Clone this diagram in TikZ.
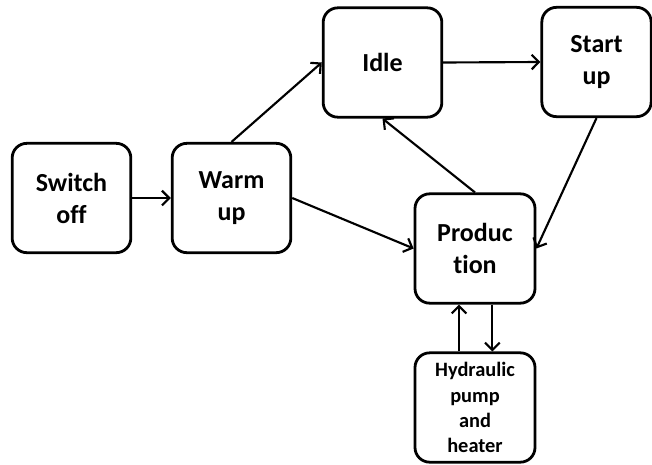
\documentclass[tikz,border=0pt]{standalone}
\usepackage{fontspec}
\setmainfont{Carlito}[Ligatures=NoCommon]
\usepackage{tikz}
\usetikzlibrary{arrows.meta}

\begin{document}
\begin{tikzpicture}[x=0.75pt,y=0.75pt,yscale=-1,xscale=1,
  state/.style={draw, line width=2.1pt, rounded corners=11pt, align=center, inner sep=0pt,
    minimum width=89pt, minimum height=82pt, font=\bfseries\fontsize{19.5}{24}\selectfont},
  small/.style={font=\bfseries\fontsize{15.3}{18.8}\selectfont},
  link/.style={line width=1.6pt, -{Straight Barb[length=5.5pt,width=11pt,line width=1.6pt]}}]
%set diagram left start at 0, and has height of 464
\useasboundingbox (0,0) rectangle (652,464);

% States
\node (off) at (71.5,198) [state] {Switch\\off};
\node (warm) at (231.5,198) [state] {Warm\\up};
\node (idle) at (382.5,62.5) [state] {Idle};
\node (start) at (596.5,62) [state, minimum width=82pt] {Start\\up};
\node (prod) at (475,248.5) [state, minimum width=90pt] {Produc\\tion};
\node (pump) at (475,407.5) [state, minimum width=90pt, small] {Hydraulic\\pump\\and\\heater};

% Transitions
\draw [link] (off.east) -- (warm.west);
\draw [link] (warm.north) -- (idle.west);
\draw [link] (warm.east) -- (prod.west);
\draw [link] (idle.east) -- (start.west);
\draw [link] (start.south) -- (prod.east);
\draw [link] (prod.north) -- (idle.south);
\draw [link] ([xshift=-12pt]pump.north) -- ([xshift=-12pt]prod.south);
\draw [link] ([xshift=13pt]prod.south) -- ([xshift=13pt]pump.north);

\end{tikzpicture}
\end{document}
